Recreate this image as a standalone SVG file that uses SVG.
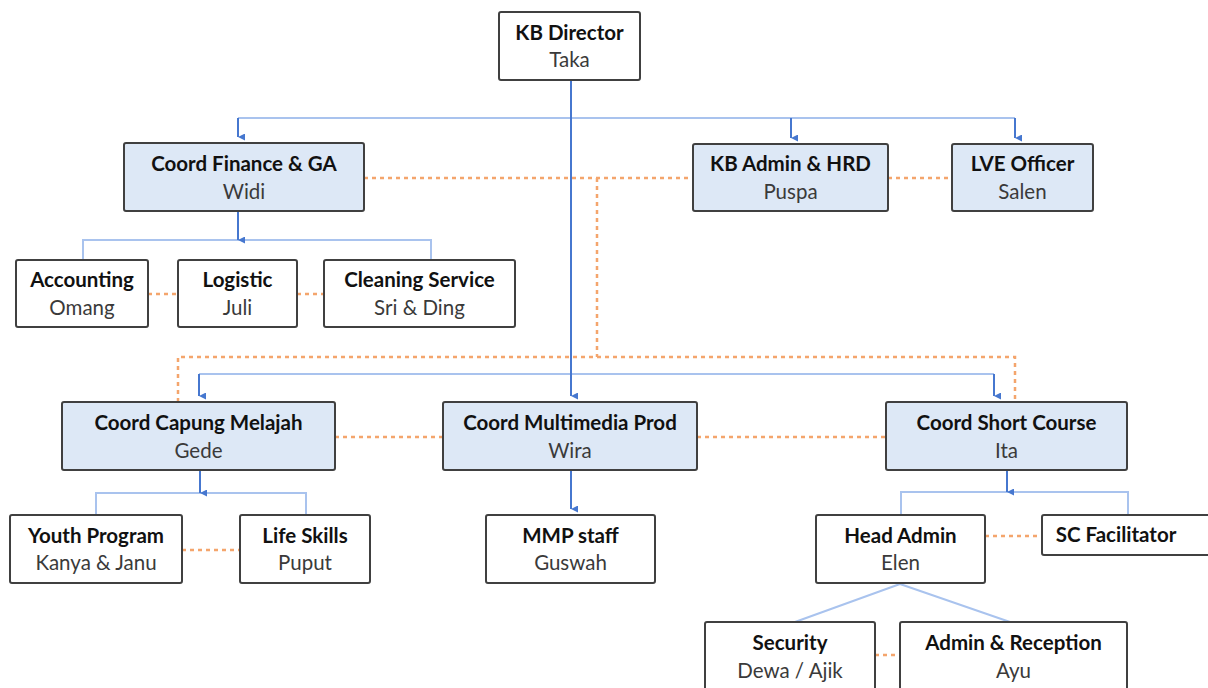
<svg xmlns="http://www.w3.org/2000/svg" width="1208" height="688" viewBox="0 0 1208 688">
<defs>
<style>
.box{fill:#ffffff;stroke:#404040;stroke-width:2}
.blue{fill:#dde8f6;stroke:#404040;stroke-width:2}
.t{font-family:Lato,"Liberation Sans",sans-serif;font-size:20.5px;font-weight:bold;fill:#111;text-anchor:middle}
.n{font-family:Lato,"Liberation Sans",sans-serif;font-size:20.5px;fill:#3a3a3a;text-anchor:middle}
.arr{stroke:#4677cf;stroke-width:2;fill:none}
.bus{stroke:#a9c3ee;stroke-width:2;fill:none}
.dash{stroke:#f4a56c;stroke-width:2.5;stroke-dasharray:4 4;fill:none}
</style>
<marker id="ah" viewBox="0 0 10 10" refX="5" refY="10" markerWidth="7" markerHeight="8" orient="auto" markerUnits="userSpaceOnUse">
<path d="M0,0 L10,0 L5,10 z" fill="#4677cf"/>
</marker>
</defs>
<rect width="1208" height="688" fill="#ffffff"/>
<g id="connectors">
<path class="bus" d="M238,118 H1015"/>
<path class="bus" d="M83,259 V240 H431 V259"/>
<path class="bus" d="M199,374 H994"/>
<path class="bus" d="M96,515 V493 H306 V515"/>
<path class="bus" d="M901,515 V492 H1128 V515"/>
<path class="bus" d="M900,584 L795,622 M900,584 L1010,622"/>
<path class="arr" d="M571,80 V396" marker-end="url(#ah)"/>
<path class="arr" d="M238,118 V137" marker-end="url(#ah)"/>
<path class="arr" d="M791,118 V138" marker-end="url(#ah)"/>
<path class="arr" d="M1015,118 V138" marker-end="url(#ah)"/>
<path class="arr" d="M238,211 V240" marker-end="url(#ah)"/>
<path class="arr" d="M199,374 V396" marker-end="url(#ah)"/>
<path class="arr" d="M994,374 V396" marker-end="url(#ah)"/>
<path class="arr" d="M200,470 V493" marker-end="url(#ah)"/>
<path class="arr" d="M571,470 V509" marker-end="url(#ah)"/>
<path class="arr" d="M1007,470 V492" marker-end="url(#ah)"/>
<path class="dash" d="M364,178 H693"/>
<path class="dash" d="M597,178 V357"/>
<path class="dash" d="M178,402 V357 H1015 V402"/>
<path class="dash" d="M888,178 H952"/>
<path class="dash" d="M148,294 H178"/>
<path class="dash" d="M297,294 H324"/>
<path class="dash" d="M335,437 H443"/>
<path class="dash" d="M697,437 H886"/>
<path class="dash" d="M182,550 H240"/>
<path class="dash" d="M985,536 H1042"/>
<path class="dash" d="M875,655 H900"/>
</g>
<g id="kb-director"><rect class="box" x="499" y="12" width="141" height="68" rx="2"/><text class="t" x="569.5" y="40">KB Director</text><text class="n" x="569.5" y="67">Taka</text></g>
<g id="coord-finance"><rect class="blue" x="124" y="143" width="240" height="68" rx="2"/><text class="t" x="244" y="171">Coord Finance &amp; GA</text><text class="n" x="244" y="199">Widi</text></g>
<g id="kb-admin"><rect class="blue" x="693" y="144" width="195" height="67" rx="2"/><text class="t" x="790.5" y="171">KB Admin &amp; HRD</text><text class="n" x="790.5" y="199">Puspa</text></g>
<g id="lve-officer"><rect class="blue" x="952" y="144" width="141" height="67" rx="2"/><text class="t" x="1022.5" y="171">LVE Officer</text><text class="n" x="1022.5" y="199">Salen</text></g>
<g id="accounting"><rect class="box" x="16" y="260" width="132" height="67" rx="2"/><text class="t" x="82" y="287">Accounting</text><text class="n" x="82" y="315">Omang</text></g>
<g id="logistic"><rect class="box" x="178" y="260" width="119" height="67" rx="2"/><text class="t" x="237.5" y="287">Logistic</text><text class="n" x="237.5" y="315">Juli</text></g>
<g id="cleaning"><rect class="box" x="324" y="260" width="191" height="67" rx="2"/><text class="t" x="419.5" y="287">Cleaning Service</text><text class="n" x="419.5" y="315">Sri &amp; Ding</text></g>
<g id="coord-capung"><rect class="blue" x="62" y="402" width="273" height="68" rx="2"/><text class="t" x="198.5" y="430">Coord Capung Melajah</text><text class="n" x="198.5" y="458">Gede</text></g>
<g id="coord-multimedia"><rect class="blue" x="443" y="402" width="254" height="68" rx="2"/><text class="t" x="570" y="430">Coord Multimedia Prod</text><text class="n" x="570" y="458">Wira</text></g>
<g id="coord-short-course"><rect class="blue" x="886" y="402" width="241" height="68" rx="2"/><text class="t" x="1006.5" y="430">Coord Short Course</text><text class="n" x="1006.5" y="458">Ita</text></g>
<g id="youth-program"><rect class="box" x="10" y="515" width="172" height="68" rx="2"/><text class="t" x="96" y="543">Youth Program</text><text class="n" x="96" y="570">Kanya &amp; Janu</text></g>
<g id="life-skills"><rect class="box" x="240" y="515" width="130" height="68" rx="2"/><text class="t" x="305" y="543">Life Skills</text><text class="n" x="305" y="570">Puput</text></g>
<g id="mmp-staff"><rect class="box" x="486" y="515" width="169" height="68" rx="2"/><text class="t" x="570.5" y="543">MMP staff</text><text class="n" x="570.5" y="570">Guswah</text></g>
<g id="head-admin"><rect class="box" x="816" y="515" width="169" height="68" rx="2"/><text class="t" x="900.5" y="543">Head Admin</text><text class="n" x="900.5" y="570">Elen</text></g>
<g id="sc-facilitator"><rect class="box" x="1042" y="515" width="175" height="40" rx="2"/><text class="t" x="1116" y="542">SC Facilitator</text></g>
<g id="security"><rect class="box" x="705" y="622" width="170" height="75" rx="2"/><text class="t" x="790" y="650">Security</text><text class="n" x="790" y="678">Dewa / Ajik</text></g>
<g id="admin-reception"><rect class="box" x="900" y="622" width="227" height="75" rx="2"/><text class="t" x="1013.5" y="650">Admin &amp; Reception</text><text class="n" x="1013.5" y="678">Ayu</text></g>
</svg>
